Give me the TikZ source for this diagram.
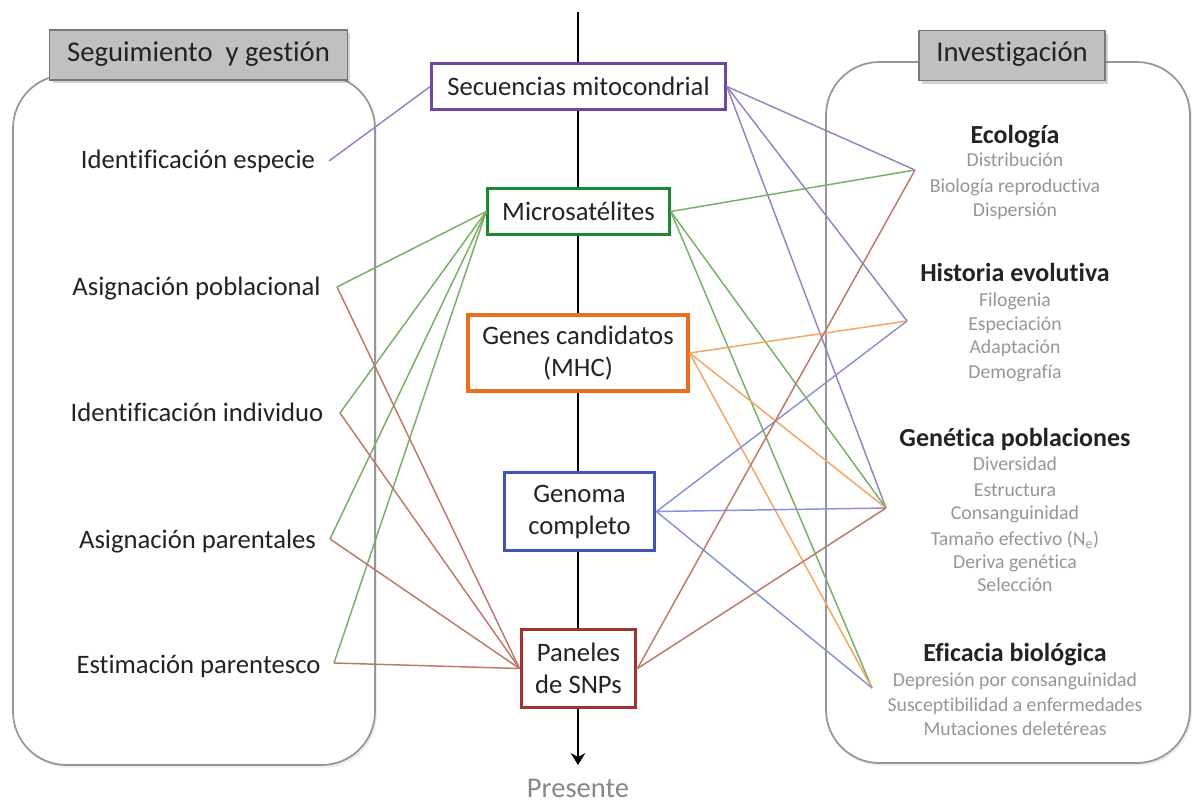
\documentclass[tikz,border=0pt]{standalone}
\usepackage{fontspec}
\setmainfont{Carlito}[Ligatures=NoCommon]
\usetikzlibrary{shadows,arrows.meta}
\definecolor{cpur}{RGB}{112,70,160}
\definecolor{cgrn}{RGB}{30,135,50}
\definecolor{cora}{RGB}{235,110,30}
\definecolor{cblu}{RGB}{65,85,185}
\definecolor{cred}{RGB}{160,50,50}
\definecolor{lpur}{RGB}{150,130,195}
\definecolor{lgrn}{RGB}{120,175,100}
\definecolor{lora}{RGB}{245,165,95}
\definecolor{lblu}{RGB}{135,145,220}
\definecolor{lred}{RGB}{190,120,105}
\definecolor{panelgray}{RGB}{150,150,150}
\definecolor{hdrfill}{RGB}{192,192,194}
\definecolor{hdrborder}{RGB}{120,120,120}
\definecolor{txt}{RGB}{35,35,35}
\definecolor{itemgray}{RGB}{150,150,150}
\begin{document}
\begin{tikzpicture}[x=0.75pt,y=-0.75pt,
  panel/.style={draw=panelgray, line width=1.3pt, rounded corners=40pt, fill=white,
    drop shadow={opacity=0.15, shadow xshift=1.5pt, shadow yshift=-2pt}, inner sep=0pt},
  header/.style={draw=hdrborder, line width=0.8pt, fill=hdrfill, inner sep=0pt, text=txt,
    font=\fontsize{21.5}{26}\selectfont, text height=1.0em, text depth=0.08em,
    drop shadow={opacity=0.35, shadow xshift=2pt, shadow yshift=-2.5pt}},
  lab/.style={font=\fontsize{20}{24}\selectfont, text=txt, inner sep=0pt, text height=0.72em, text depth=0.2em, yshift=-3.5pt},
  cbox/.style={draw, line width=2.4pt, fill=white, align=center, inner sep=0pt, text=txt,
    font=\fontsize{20}{24}\selectfont},
  head/.style={font=\bfseries\fontsize{19.5}{23}\selectfont, text=txt, inner sep=0pt, text height=0.72em, text depth=0.2em, yshift=-3.5pt},
  item/.style={font=\fontsize{14.8}{18}\selectfont, text=itemgray, inner sep=0pt, text height=0.72em, text depth=0.2em, yshift=-2.3pt},
  conn/.style={line width=1.1pt},
  axisline/.style={line width=1.8pt, -{Stealth[length=9pt,width=11pt,inset=3pt]}}
]
\useasboundingbox (0,0) rectangle (1192,803);

% panels
\node[panel, minimum width=271.5pt, minimum height=517.5pt] (leftpanel) at (194,420) {};
\node[panel, minimum width=273pt, minimum height=525.75pt] (rightpanel) at (1008,412.5) {};

% headers
\node[header, minimum width=223pt, minimum height=37.5pt] (hleft) at (198.5,55) {Seguimiento~ y gestión};
\node[header, minimum width=139.5pt, minimum height=38pt] (hright) at (1012,55.5) {Investigación};

% time axis
\coordinate (axtop) at (578,12);
\coordinate (axbot) at (578,765);
\draw[axisline] (axtop) -- (axbot);
\node[font=\fontsize{21.4}{26}\selectfont, text=itemgray!90!black, inner sep=0pt, anchor=base] (presente) at (578,797) {Presente};

% central boxes
\node[cbox, draw=cpur, minimum width=220pt, minimum height=35pt] (secu) at (578.5,86.5) {Secuencias mitocondrial};
\node[cbox, draw=cgrn, minimum width=136pt, minimum height=35pt] (micro) at (578.5,211.5) {Microsatélites};
\node[cbox, draw=cora, minimum width=165pt, minimum height=57pt] (genes) at (578,353) {Genes candidatos\\(MHC)};
\node[cbox, draw=cblu, minimum width=113pt, minimum height=58pt] (genoma) at (579.5,511.5) {Genoma\\completo};
\node[cbox, draw=cred, minimum width=86pt, minimum height=58pt] (snps) at (578.5,668.5) {Paneles\\de SNPs};

% left labels
\node[lab] (ie) at (198,160) {Identificación especie};
\node[lab] (ap) at (196.5,287) {Asignación poblacional};
\node[lab] (ii) at (197,413) {Identificación individuo};
\node[lab] (apar) at (197.5,540) {Asignación parentales};
\node[lab] (ep) at (198.5,665) {Estimación parentesco};

\coordinate (pIE) at (329,161);
\coordinate (pAP) at (337,287);
\coordinate (pII) at (340,413);
\coordinate (pAPar) at (330,539);
\coordinate (pEP) at (334,663);

% right texts
\node[head] (eco) at (1015,135) {Ecología};
\node[item] (eco1) at (1015,160) {Distribución};
\node[item] (eco2) at (1015,186) {Biología reproductiva};
\node[item] (eco3) at (1015,210) {Dispersión};

\node[head] (his) at (1015,273) {Historia evolutiva};
\node[item] (his1) at (1015,300) {Filogenia};
\node[item] (his2) at (1015,324) {Especiación};
\node[item] (his3) at (1015,347) {Adaptación};
\node[item] (his4) at (1015,372) {Demografía};

\node[head] (gen) at (1015,438) {Genética poblaciones};
\node[item] (gen1) at (1015,464) {Diversidad};
\node[item] (gen2) at (1015,490) {Estructura};
\node[item] (gen3) at (1015,513) {Consanguinidad};
\node[item] (gen4) at (1015,539) {Tamaño efectivo (N\textsubscript{e})};
\node[item] (gen5) at (1015,562) {Deriva genética};
\node[item] (gen6) at (1015,585) {Selección};

\node[head] (efi) at (1015,653) {Eficacia biológica};
\node[item] (efi1) at (1015,680) {Depresión por consanguinidad};
\node[item] (efi2) at (1015,705) {Susceptibilidad a enfermedades};
\node[item] (efi3) at (1015,729) {Mutaciones deletéreas};

\coordinate (pECO) at (915,170);
\coordinate (pHIS) at (907,321);
\coordinate (pGEN) at (886,508);
\coordinate (pEFI) at (872,688);

% connectors
\draw[conn, lpur] (pIE) -- (secu.west);
\draw[conn, lpur] (secu.east) -- (pECO);
\draw[conn, lpur] (secu.east) -- (pHIS);
\draw[conn, lpur] (secu.east) -- (pGEN);

\draw[conn, lgrn] (micro.west) -- (pAP);
\draw[conn, lgrn] (micro.west) -- (pII);
\draw[conn, lgrn] (micro.west) -- (pAPar);
\draw[conn, lgrn] (micro.west) -- (pEP);
\draw[conn, lgrn] (micro.east) -- (pECO);
\draw[conn, lgrn] (micro.east) -- (pGEN);
\draw[conn, lgrn] (micro.east) -- (pEFI);

\draw[conn, lora] (genes.east) -- (pHIS);
\draw[conn, lora] (genes.east) -- (pGEN);
\draw[conn, lora] (genes.east) -- (pEFI);

\draw[conn, lblu] (genoma.east) -- (pHIS);
\draw[conn, lblu] (genoma.east) -- (pGEN);
\draw[conn, lblu] (genoma.east) -- (pEFI);

\draw[conn, lred] (snps.west) -- (pAP);
\draw[conn, lred] (snps.west) -- (pII);
\draw[conn, lred] (snps.west) -- (pAPar);
\draw[conn, lred] (snps.west) -- (pEP);
\draw[conn, lred] (snps.east) -- (pECO);
\draw[conn, lred] (snps.east) -- (pGEN);
\end{tikzpicture}
\end{document}
